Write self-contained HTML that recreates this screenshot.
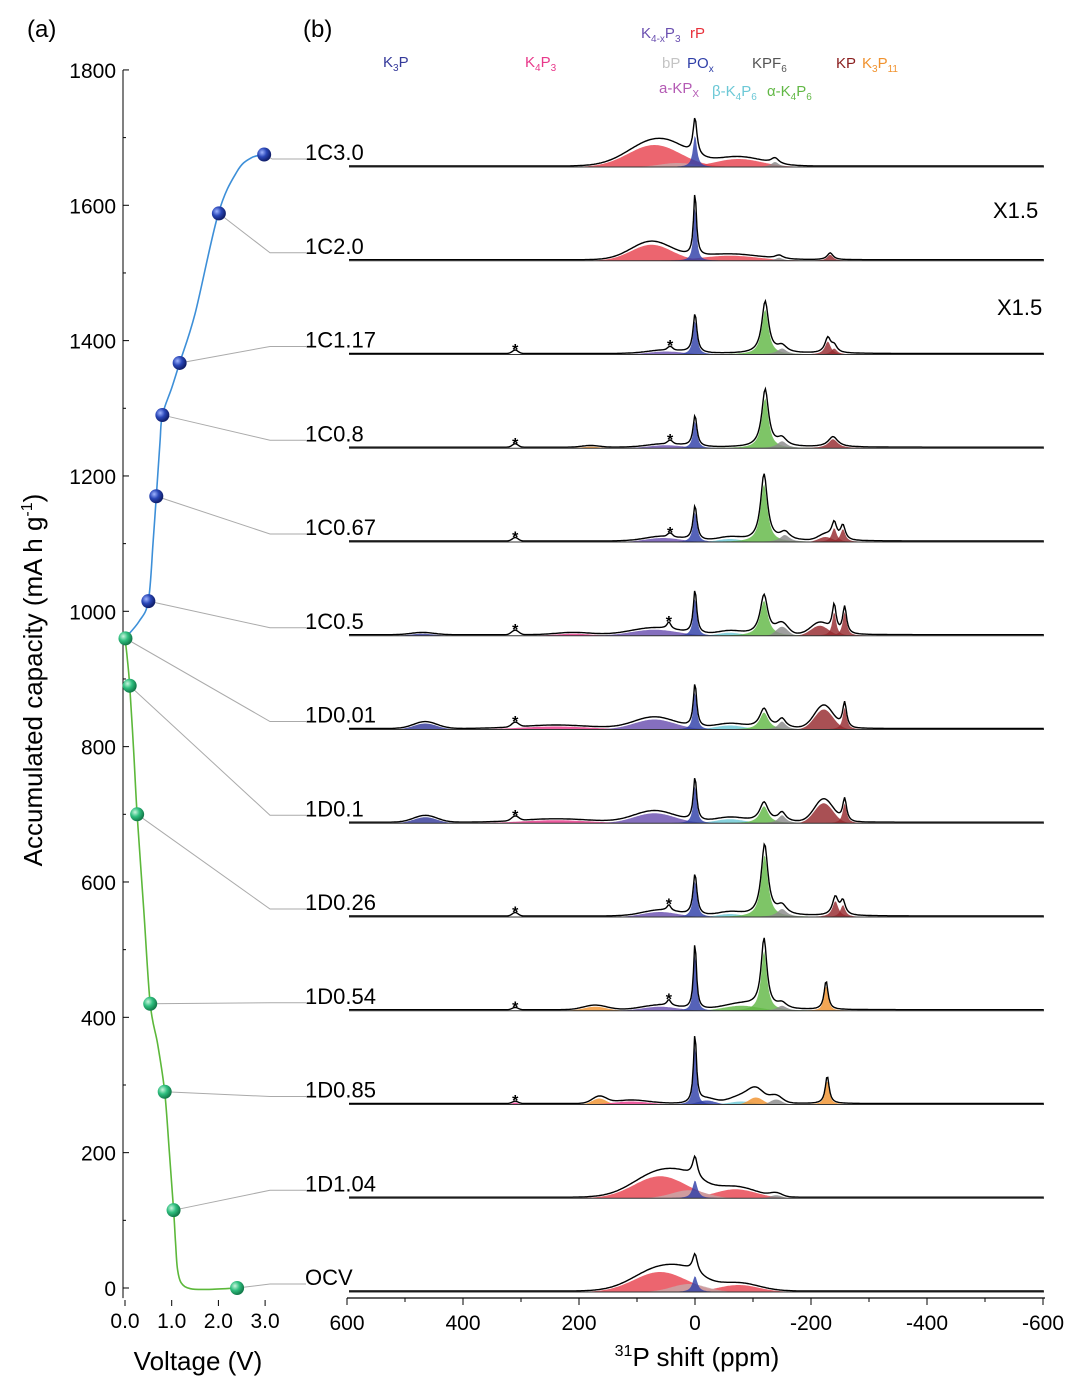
<!DOCTYPE html>
<html><head><meta charset="utf-8"><style>
html,body{margin:0;padding:0;background:#fff}
svg{display:block;font-family:"Liberation Sans",Arial,sans-serif}
</style></head><body>
<svg id="fig" width="1080" height="1384" viewBox="0 0 1080 1384" xmlns="http://www.w3.org/2000/svg">
<text x="27" y="37" font-size="24">(a)</text>
<text x="303" y="37" font-size="24">(b)</text>
<g font-size="15">
<text x="383" y="67" fill="#34399a">K<tspan font-size="10" dy="4">3</tspan><tspan dy="-4">P</tspan></text>
<text x="525" y="67" fill="#e8388a">K<tspan font-size="10" dy="4">4</tspan><tspan dy="-4">P</tspan><tspan font-size="10" dy="4">3</tspan></text>
<text x="641" y="38" fill="#6a4fb0">K<tspan font-size="10" dy="4">4-x</tspan><tspan dy="-4">P</tspan><tspan font-size="10" dy="4">3</tspan></text>
<text x="690" y="38" fill="#e8303a">rP</text>
<text x="662" y="68" fill="#c4c4c4">bP</text>
<text x="687" y="68" fill="#2f3fa8">PO<tspan font-size="10" dy="4">x</tspan></text>
<text x="752" y="68" fill="#555">KPF<tspan font-size="10" dy="4">6</tspan></text>
<text x="836" y="68" fill="#8b2020">KP</text>
<text x="862" y="68" fill="#f0922e">K<tspan font-size="10" dy="4">3</tspan><tspan dy="-4">P</tspan><tspan font-size="10" dy="4">11</tspan></text>
<text x="659" y="93" fill="#b45ab4">a-KP<tspan font-size="10" dy="4">X</tspan></text>
<text x="712" y="96" fill="#6cc8d6">β-K<tspan font-size="10" dy="4">4</tspan><tspan dy="-4">P</tspan><tspan font-size="10" dy="4">6</tspan></text>
<text x="767" y="96" fill="#62b846">α-K<tspan font-size="10" dy="4">4</tspan><tspan dy="-4">P</tspan><tspan font-size="10" dy="4">6</tspan></text>
</g>
<text x="993" y="218" font-size="22">X1.5</text>
<text x="997" y="315" font-size="22">X1.5</text>
<g id="left"></g>
<g id="right"></g>
</svg>
<script>
const NS="http://www.w3.org/2000/svg";
// ---------- panel (a) data ----------
const labels=["1C3.0","1C2.0","1C1.17","1C0.8","1C0.67","1C0.5","1D0.01","1D0.1","1D0.26","1D0.54","1D0.85","1D1.04","OCV"];
const pointV=[2.98,2.01,1.17,0.8,0.67,0.5,0.01,0.1,0.26,0.54,0.85,1.04,2.4];
const pointCap=[1675,1588,1367,1290,1170,1015,960,890,700,420,290,115,0];
const dischargeV=[2.4,1.8,1.4,1.2,1.12,1.08,1.04,0.95,0.85,0.7,0.54,0.4,0.26,0.18,0.1,0.05,0.0];
const dischargeCap=[0,-2,-1,8,30,70,115,200,290,360,420,560,700,800,890,930,960];
const chargeV=[0.0,0.3,0.5,0.6,0.67,0.75,0.8,1.0,1.17,1.5,2.0,2.4,2.7,3.0];
const chargeCap=[960,985,1015,1100,1170,1250,1290,1330,1367,1440,1588,1650,1670,1675];
const yTicks=[0,200,400,600,800,1000,1200,1400,1600,1800];
const xTicks=[0,1,2,3];
// ---------- panel (b) data: [phase, ppm, height, width, shape] ----------
const s1C30=[['rP',70,22,45,'g'],['rP',-75,8,40,'g'],['bP',30,4,30,'g'],['PO',0,32,4,'l'],['KPF',-138,5,8,'l']];
const s1C20=[['rP',75,16,35,'g'],['rP',-60,5,50,'g'],['PO',0,55,3,'l'],['KPF',-145,3,8,'l'],['KP',-233,6,6,'l']];
const s1C117=[['K4xP3',50,3,30,'g'],['PO',0,34,4,'l'],['a46',-121,45,7,'l'],['KPF',-150,6,10,'l'],['KP',-229,13,6,'l'],['KP',-240,6,6,'l'],['x',310,3,5,'g'],['x',43,3,4,'g']];
const s1C08=[['K3P11',180,1.5,15,'g'],['K4xP3',50,3,30,'g'],['PO',0,27,4,'l'],['a46',-121,50,7,'l'],['KPF',-150,7,10,'l'],['KP',-238,9,10,'l'],['x',310,3,5,'g'],['x',43,3,4,'g']];
const s1C067=[['K4xP3',55,4,30,'g'],['b46',-60,3,20,'g'],['PO',0,30,4,'l'],['a46',-119,58,7,'l'],['KPF',-155,7,10,'l'],['KP',-225,5,12,'g'],['KP',-240,14,5,'l'],['KP',-255,13,5,'l'],['x',310,3,5,'g'],['x',43,3,4,'g']];
const s1C05=[['K3P',470,2,20,'g'],['K4P3',210,2,30,'g'],['K4xP3',70,6,40,'g'],['b46',-60,3,20,'g'],['PO',0,38,3.5,'l'],['a46',-119,35,8,'l'],['KPF',-150,9,10,'g'],['KP',-215,10,15,'g'],['KP',-240,24,4,'l'],['KP',-258,24,4,'l'],['x',310,4,6,'g'],['x',45,6,4,'l']];
const s1D001=[['K3P',465,6,20,'g'],['K4P3',240,3,60,'g'],['K4xP3',70,10,35,'g'],['b46',-60,4,25,'g'],['PO',0,38,3.5,'l'],['a46',-119,17,9,'l'],['KPF',-150,8,8,'l'],['KP',-222,20,16,'g'],['KP',-258,22,4,'l'],['x',310,4,6,'g']];
const s1D01=[['K3P',465,6,20,'g'],['K4P3',240,3,60,'g'],['K4xP3',70,10,35,'g'],['b46',-60,4,25,'g'],['PO',0,38,3.5,'l'],['a46',-119,17,9,'l'],['KPF',-150,8,8,'l'],['KP',-222,20,16,'g'],['KP',-258,20,4,'l'],['x',310,4,6,'g']];
const s1D026=[['K4xP3',60,5,30,'g'],['b46',-60,3,20,'g'],['PO',0,36,4,'l'],['a46',-120,62,7,'l'],['KPF',-150,8,10,'l'],['KP',-242,16,6,'l'],['KP',-255,12,5,'l'],['x',310,3,5,'g'],['x',45,5,4,'l']];
const s1D054=[['K3P11',172,4,20,'g'],['K4xP3',60,4,30,'g'],['a46',-80,5,30,'g'],['PO',0,58,3,'l'],['a46',-119,60,6,'l'],['KPF',-150,5,10,'l'],['K3P11',-226,25,4,'l'],['x',310,2,5,'g'],['x',45,5,4,'l']];
const s1D085=[['K4P3',310,2,5,'g'],['K3P11',165,6,12,'g'],['K4P3',110,3,30,'g'],['PO',-20,4,15,'g'],['PO',0,60,3,'l'],['b46',-80,3,20,'g'],['K3P11',-105,7,12,'g'],['KPF',-140,5,10,'g'],['K3P11',-228,24,4,'l'],['x',-100,6,30,'g']];
const s1D104=[['rP',60,22,45,'g'],['rP',-70,9,35,'g'],['bP',10,8,30,'g'],['PO',0,18,5,'l'],['KPF',-140,3,10,'g']];
const sOCV=[['rP',60,20,45,'g'],['rP',-75,7,35,'g'],['bP',10,8,30,'g'],['PO',0,16,5,'l']];
const spectra=[s1C30,s1C20,s1C117,s1C08,s1C067,s1C05,s1D001,s1D01,s1D026,s1D054,s1D085,s1D104,sOCV];
const stars=[[],[],[310,43],[310,43],[310,43],[310,45],[310],[310],[310,45],[310,45],[310],[],[]];
const ppmTicks=[600,400,200,0,-200,-400,-600];

const COL={rP:'#e8434f',PO:'#2f3fa8',K4xP3:'#6a4fb0',K4P3:'#e8388a',aKP:'#b45ab4',b46:'#6cc8d6',a46:'#62b846',KPF:'#8a8a8a',KP:'#962a2e',K3P11:'#f0922e',K3P:'#34399a',bP:'#c8a8a8'};

function mk(parent,tag,attrs,name,inter){const e=document.createElementNS(NS,tag);for(const k in attrs)e.setAttribute(k,attrs[k]);


parent.appendChild(e);return e;}

// ---------- panel (a) ----------
const L=document.getElementById('left');
const vx=v=>125+v*46.7, cy=c=>1288-c*0.6767;
const baseY=i=>167+i*93.75;
mk(L,'line',{x1:123,y1:cy(-15),x2:123,y2:cy(1800),stroke:'#000','stroke-width':1},'y-axis-line');
for(let c=0;c<=1800;c+=100){mk(L,'line',{x1:123,x2:c%200==0?129:126,y1:cy(c),y2:cy(c),stroke:'#000','stroke-width':1},'y-tick');}
yTicks.forEach(c=>{const t=mk(L,'text',{x:116,y:cy(c)+8,'font-size':21,'text-anchor':'end'},'y-tick-label');t.textContent=c;});
xTicks.forEach(v=>{mk(L,'line',{x1:vx(v),x2:vx(v),y1:1300,y2:1306,stroke:'#000'},'x-tick');const t=mk(L,'text',{x:vx(v),y:1328,'font-size':21,'text-anchor':'middle'},'x-tick-label');t.textContent=v.toFixed(1);});
let t=mk(L,'text',{x:198,y:1370,'font-size':26,'text-anchor':'middle'},'x-axis-title');t.textContent='Voltage (V)';
t=mk(L,'text',{x:0,y:0,'font-size':26,'text-anchor':'middle',transform:'translate(42,680) rotate(-90)'},'y-axis-title');
t.innerHTML='Accumulated capacity (mA h g<tspan font-size="16" dy="-10">-1</tspan><tspan dy="10">)</tspan>';
labels.forEach((lb,i)=>{const y=baseY(i)-8;const px=vx(pointV[i]),py=cy(pointCap[i]);
mk(L,'polyline',{points:`${px},${py} ${Math.max(px+8,270)},${y} 306,${y}`,fill:'none',stroke:'#aaa','stroke-width':1},'connector-'+lb);});
function smoothPath(P){let d=`M${P[0][0]},${P[0][1]}`;for(let i=0;i<P.length-1;i++){const p0=P[Math.max(0,i-1)],p1=P[i],p2=P[i+1],p3=P[Math.min(P.length-1,i+2)];
const c1=[p1[0]+(p2[0]-p0[0])/6,p1[1]+(p2[1]-p0[1])/6],c2=[p2[0]-(p3[0]-p1[0])/6,p2[1]-(p3[1]-p1[1])/6];
d+=` C${c1[0].toFixed(1)},${c1[1].toFixed(1)} ${c2[0].toFixed(1)},${c2[1].toFixed(1)} ${p2[0].toFixed(1)},${p2[1].toFixed(1)}`;}return d;}
function curve(V,C,col,name){mk(L,'path',{d:smoothPath(V.map((v,i)=>[vx(v),cy(C[i])])),fill:'none',stroke:col,'stroke-width':1.6},name);}
curve(dischargeV,dischargeCap,'#5cb83a','discharge-curve');
curve(chargeV,chargeCap,'#3d8fd8','charge-curve');
const defs=mk(document.getElementById('fig'),'defs',{},'defs');
defs.innerHTML='<radialGradient id="gb" cx="35%" cy="35%" r="65%"><stop offset="0" stop-color="#9fb4ff"/><stop offset="0.5" stop-color="#2a47b8"/><stop offset="1" stop-color="#101e6a"/></radialGradient><radialGradient id="gg" cx="35%" cy="35%" r="65%"><stop offset="0" stop-color="#c8f5dd"/><stop offset="0.5" stop-color="#2fbf7f"/><stop offset="1" stop-color="#137a4a"/></radialGradient>';
labels.forEach((lb,i)=>{mk(L,'circle',{cx:vx(pointV[i]),cy:cy(pointCap[i]),r:7,fill:lb.startsWith('1C')?'url(#gb)':'url(#gg)'},'point-'+lb,true);});

// ---------- panel (b) ----------
const R=document.getElementById('right');
const px=p=>695-p*0.58;
mk(R,'line',{x1:347,x2:1045,y1:1298,y2:1298,stroke:'#000','stroke-width':1.2},'ppm-axis-line');
for(let p=600;p>=-600;p-=100){mk(R,'line',{x1:px(p),x2:px(p),y1:1298,y2:p%200==0?1305:1302,stroke:'#000'},'ppm-tick');}
ppmTicks.forEach(p=>{const e=mk(R,'text',{x:px(p),y:1330,'font-size':21,'text-anchor':'middle'},'ppm-tick-label');e.textContent=p;});
t=mk(R,'text',{x:697,y:1366,'font-size':26,'text-anchor':'middle'},'ppm-axis-title');t.innerHTML='<tspan font-size="16" dy="-10">31</tspan><tspan dy="10">P shift (ppm)</tspan>';
function shape(pk,p){const d=(p-pk[1])/pk[3];return pk[4]=='g'?pk[2]*Math.exp(-0.5*d*d):pk[2]/(1+d*d);}
spectra.forEach((peaks,i)=>{const b=baseY(i);const g=mk(R,'g',{},'spectrum-'+labels[i]);
 const ppms=[];for(let x=349;x<=1044;x+=1.2)ppms.push((695-x)/0.58);
 peaks.forEach(pk=>{if(pk[0]=='x')return;let d=`M${px(ppms[0])},${b}`;ppms.forEach(p=>{const v=shape(pk,p);d+=` L${px(p).toFixed(1)},${(b-v).toFixed(1)}`;});d+=` L${px(ppms[ppms.length-1])},${b} Z`;
  mk(g,'path',{d:d,fill:COL[pk[0]],'fill-opacity':0.82},'peak-'+pk[0]);});
 let d='';ppms.forEach((p,j)=>{let s=0;peaks.forEach(pk=>s+=shape(pk,p));d+=(j?' L':'M')+px(p).toFixed(1)+','+(b-1-s*1.15).toFixed(1);});
 mk(g,'path',{d:d,fill:'none',stroke:'#000','stroke-width':1.4},'envelope-'+labels[i]);
 mk(g,'line',{x1:349,x2:1044,y1:b,y2:b,stroke:'#333','stroke-width':1},'baseline-'+labels[i]);
 const e=mk(g,'text',{x:305,y:b-7,'font-size':22},'label-'+labels[i]);e.textContent=labels[i];
 stars[i].forEach(p=>{let s=0;peaks.forEach(pk=>s+=shape(pk,p));const st=mk(g,'text',{x:px(p),y:b-s*1.15+4,'font-size':16,'font-weight':'bold','text-anchor':'middle'},'star-marker');st.textContent='*';});
});
</script>
</body></html>
